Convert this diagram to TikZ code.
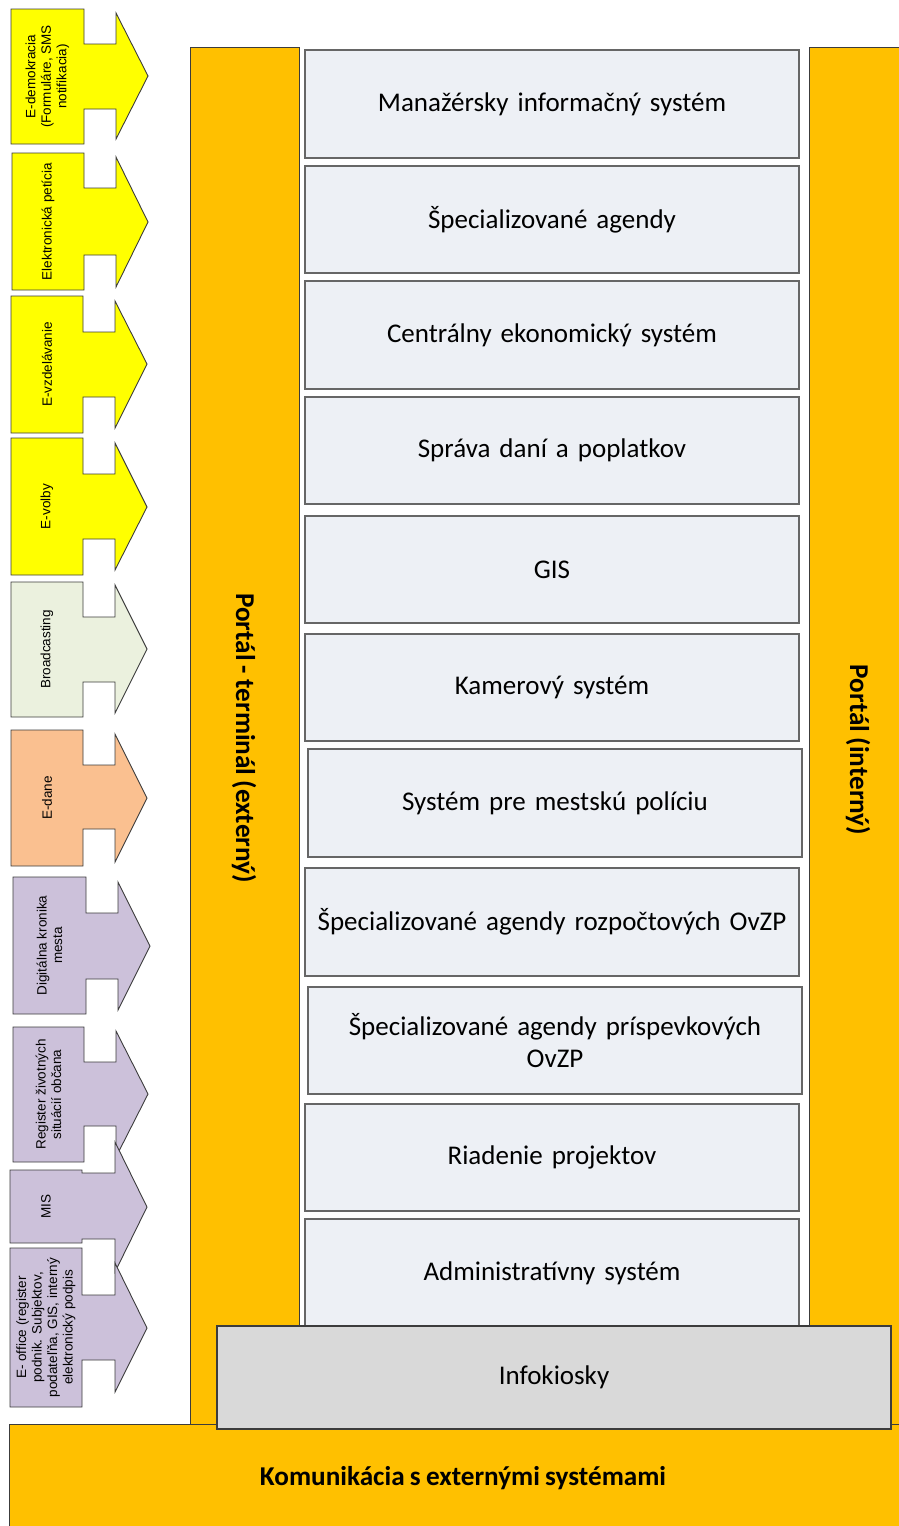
\documentclass[tikz,border=0pt]{standalone}
\usepackage{fontspec}
\setmainfont{Carlito}[WordSpace=0.85]
\newfontfamily\arialfont{Liberation Sans}
\definecolor{barorange}{HTML}{FFC000}
\definecolor{boxfill}{HTML}{EDF0F5}
\definecolor{kioskfill}{HTML}{D9D9D9}
\definecolor{ayellow}{HTML}{FFFF00}
\definecolor{agreen}{HTML}{EBF1DE}
\definecolor{aorange}{HTML}{FAC090}
\definecolor{alav}{HTML}{CCC1DA}
\definecolor{edge}{HTML}{3C3C3C}
\tikzset{
  bar/.style={fill=barorange, draw=edge, line width=1pt},
  mainbox/.style={fill=boxfill, draw=black!60, line width=1.2pt, minimum width=494pt,
    align=center, text width=470pt, font=\fontsize{27}{32}\selectfont, inner sep=0pt},
  kiosk/.style={fill=kioskfill, draw=edge, line width=1.2pt, minimum width=674pt, minimum height=103pt,
    font=\fontsize{27}{32}\selectfont},
  bartext/.style={font=\bfseries\fontsize{27.2}{32}\selectfont},
  arrowshape/.style={draw=edge, line width=0.9pt, line join=miter},
  arrowtext/.style={rotate=90, align=center, font=\arialfont\fontsize{13.5}{15.5}\selectfont, inner sep=0pt}
}
\begin{document}
\begin{tikzpicture}[x=1pt,y=-1pt]
\useasboundingbox (0,0) rectangle (899,1526);

% portal bars
\draw[bar] (190,47) rectangle (299,1424);
\draw[bar] (809,47) rectangle (906,1424);
\draw[bar] (9,1424) rectangle (906,1532);
\node[bartext, rotate=-90] (pext) at (244,738) {Portál - terminál (externý)};
\node[bartext, rotate=-90] (pint) at (858,750) {Portál (interný)};
\node[bartext] (komu) at (463,1478) {Komunikácia s externými systémami};

% main boxes
\node[mainbox, minimum height=108pt] (b1) at (552,104) {Manažérsky informačný systém};
\node[mainbox, minimum height=107pt] (b2) at (552,219.5) {Špecializované agendy};
\node[mainbox, minimum height=108pt] (b3) at (552,335) {Centrálny ekonomický systém};
\node[mainbox, minimum height=107pt] (b4) at (552,450.5) {Správa daní a poplatkov};
\node[mainbox, minimum height=107pt] (b5) at (552,569.5) {GIS};
\node[mainbox, minimum height=107pt] (b6) at (552,687.5) {Kamerový systém};
\node[mainbox, minimum height=108pt] (b7) at (555,803) {Systém pre mestskú políciu};
\node[mainbox, minimum height=108pt] (b8) at (552,922) {Špecializované agendy rozpočtových OvZP};
\node[mainbox, minimum height=107pt] (b9) at (555,1040.5) {Špecializované agendy príspevkových\\OvZP};
\node[mainbox, minimum height=107pt] (b10) at (552,1157.5) {Riadenie projektov};
\node[mainbox, minimum height=108pt] (b11) at (552,1273) {Administratívny systém};

\node[kiosk] (kio) at (554,1377.5) {Infokiosky};

% left arrows
\draw[arrowshape, fill=ayellow] (11,9) -- (84,9) -- (84,44) -- (116,44) -- (116,13) -- (148,76) -- (116,139) -- (116,109) -- (84,109) -- (84,144) -- (11,144) -- cycle;
\node[arrowtext] (a1) at (47.5,76.5) {E-demokracia\\(Formuláre, SMS\\notifikacia)};

\draw[arrowshape, fill=ayellow] (12,153) -- (84,153) -- (84,188) -- (116,188) -- (116,157) -- (148,222) -- (116,287) -- (116,255) -- (84,255) -- (84,290) -- (12,290) -- cycle;
\node[arrowtext] (a2) at (48,221.5) {Elektronická petícia};

\draw[arrowshape, fill=ayellow] (11,296) -- (83,296) -- (83,332) -- (115,332) -- (115,301) -- (147,364) -- (115,428) -- (115,397) -- (83,397) -- (83,433) -- (11,433) -- cycle;
\node[arrowtext] (a3) at (47,364.5) {E-vzdelávanie};

\draw[arrowshape, fill=ayellow] (11,438) -- (83,438) -- (83,474) -- (115,474) -- (115,443) -- (147,507) -- (115,570) -- (115,539) -- (83,539) -- (83,575) -- (11,575) -- cycle;
\node[arrowtext] (a4) at (47,506.5) {E-volby};

\draw[arrowshape, fill=agreen] (11,582) -- (83,582) -- (83,617) -- (115,617) -- (115,585) -- (147,649) -- (115,713) -- (115,682) -- (83,682) -- (83,717) -- (11,717) -- cycle;
\node[arrowtext] (a5) at (47,649.5) {Broadcasting};

\draw[arrowshape, fill=aorange] (11,730) -- (83,730) -- (83,765) -- (115,765) -- (115,734) -- (147,798) -- (115,862) -- (115,829) -- (83,829) -- (83,866) -- (11,866) -- cycle;
\node[arrowtext] (a6) at (47,798) {E-dane};

\draw[arrowshape, fill=alav] (13,877) -- (86,877) -- (86,913) -- (118,913) -- (118,882) -- (150,946) -- (118,1010) -- (118,979) -- (86,979) -- (86,1014) -- (13,1014) -- cycle;
\node[arrowtext] (a7) at (49.5,945.5) {Digitálna kronika\\mesta};

\draw[arrowshape, fill=alav] (13,1027) -- (84,1027) -- (84,1062) -- (116,1062) -- (116,1031) -- (148,1094) -- (116,1157) -- (116,1126) -- (84,1126) -- (84,1162) -- (13,1162) -- cycle;
\node[arrowtext] (a8) at (48.5,1094.5) {Register životných\\situácií občana};

\draw[arrowshape, fill=alav] (10,1170) -- (82,1170) -- (82,1173) -- (115,1173) -- (115,1142) -- (147,1207) -- (115,1272) -- (115,1239) -- (82,1239) -- (82,1243) -- (10,1243) -- cycle;
\node[arrowtext] (a9) at (46,1206.5) {MIS};

\draw[arrowshape, fill=alav] (10,1248) -- (82,1248) -- (82,1295) -- (115,1295) -- (115,1263) -- (147,1328) -- (115,1392) -- (115,1360) -- (82,1360) -- (82,1407) -- (10,1407) -- cycle;
\node[arrowtext] (a10) at (46,1327.5) {E- office (register\\podnik. Subjektov,\\podateľňa, GIS, interný\\elektronický podpis};
\end{tikzpicture}
\end{document}
